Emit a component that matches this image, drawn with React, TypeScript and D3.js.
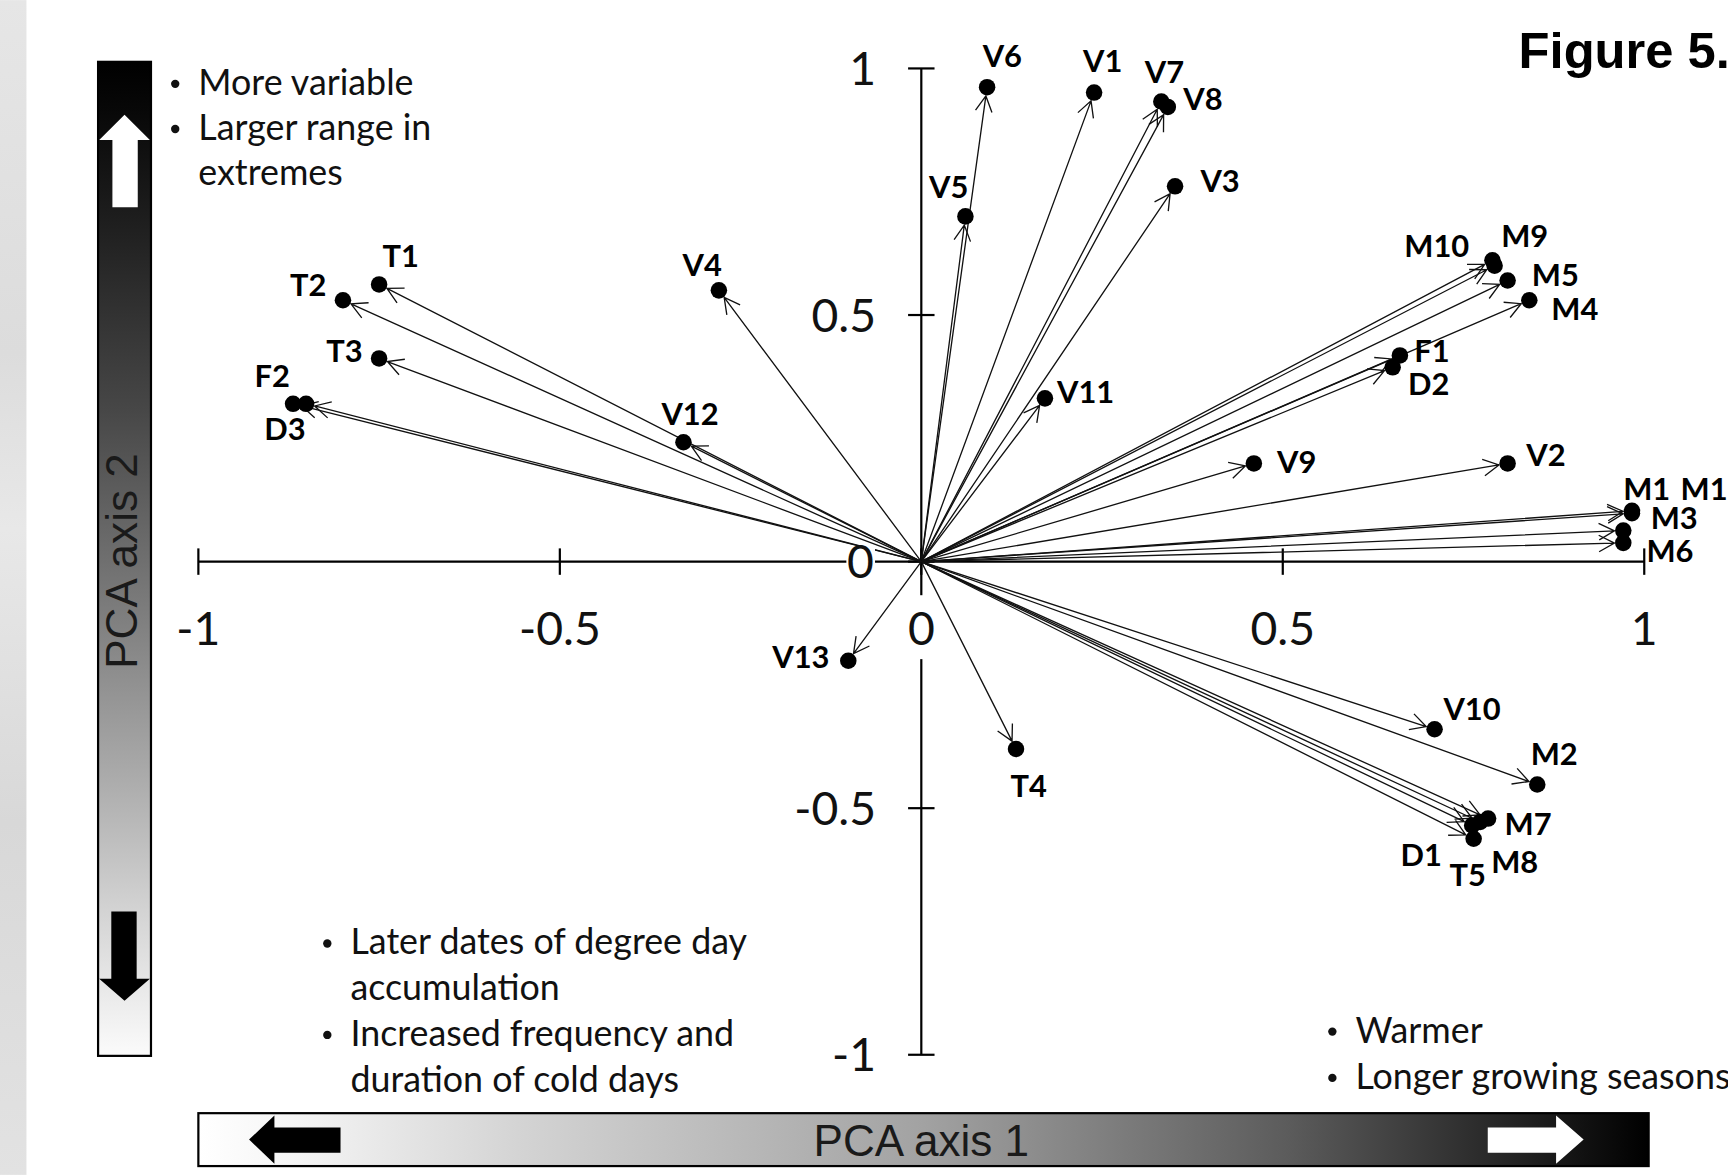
import React from "react";
import * as d3 from "d3";

// loadings
const names = ["V1", "V2", "V3", "V4", "V5", "V6", "V7", "V8", "V9", "V10", "V11", "V12", "V13",
  "T1", "T2", "T3", "T4", "T5",
  "M1", "M2", "M3", "M4", "M5", "M6", "M7", "M8", "M9", "M10", "M11",
  "D1", "D2", "D3", "F1", "F2"];
const pc1 = [0.239, 0.811, 0.351, -0.28, 0.061, 0.091, 0.332, 0.341, 0.46, 0.71, 0.171, -0.329, -0.101,
  -0.75, -0.8, -0.75, 0.131, 0.764,
  0.983, 0.852, 0.983, 0.841, 0.811, 0.971, 0.784, 0.773, 0.793, 0.79, 0.971,
  0.762, 0.652, -0.851, 0.662, -0.869];
const pc2 = [0.951, 0.199, 0.761, 0.55, 0.7, 0.962, 0.933, 0.922, 0.199, -0.34, 0.331, 0.242, -0.201,
  0.562, 0.53, 0.412, -0.38, -0.562,
  0.103, -0.452, 0.098, 0.53, 0.57, 0.038, -0.521, -0.528, 0.6, 0.611, 0.063,
  -0.535, 0.394, 0.32, 0.418, 0.32];

const ticks = [-1, -0.5, 0, 0.5, 1];
const tickText = ["-1", "-0.5", "0", "0.5", "1"];

const topNotes = ["More variable", "Larger range in", "extremes"];
const topBullets = [true, true, false];
const leftNotes = ["Later dates of degree day", "accumulation", "Increased frequency and", "duration of cold days"];
const leftBullets = [true, false, true, false];
const rightNotes = ["Warmer", "Longer growing seasons"];
const rightBullets = [true, true];

// label placement relative to each dot (layout only)
const labelPos: Record<string, [number, number]> = {
  V1: [-10, -19], V2: [17, 2], V3: [23, 5], V4: [-33, -13], V5: [-33, -17], V6: [-4, -18],
  V7: [-15, -17], V8: [14, 3], V9: [21, 9], V10: [8, -8], V11: [11, 4], V12: [-20, -16], V13: [-69, 7],
  T1: [3, -16], T2: [-48, -4], T3: [-48, 3], T4: [-5, 44], T5: [-22, 43],
  M1: [-8, -10], M2: [-6, -18], M3: [17, 14], M4: [20, 18], M5: [22, 5], M6: [21, 17],
  M7: [15, 15], M8: [10, 46], M9: [6, -17], M10: [-80, -3], M11: [52, -28],
  D1: [-65, 37], D2: [14, 25], D3: [-38, 33], F1: [13, 6], F2: [-35, -15],
};

const W = 1568;
const H = 1066;
const sans = "Lato, 'Open Sans', sans-serif";
const arial = "'Liberation Sans', Arial, sans-serif";

export default function App() {
  const x = d3.scaleLinear().domain([-1, 1]).range([180, 1492]);
  const y = d3.scaleLinear().domain([-1, 1]).range([957, 62]);
  const x0 = x(0);
  const y0 = y(0);

  const arrows = names.map((n, i) => {
    const px = x(pc1[i]);
    const py = y(pc2[i]);
    const dx = px - x0;
    const dy = py - y0;
    const len = Math.sqrt(dx * dx + dy * dy);
    const ux = dx / len;
    const uy = dy / len;
    const tx = px - ux * 8;
    const ty = py - uy * 8;
    const ang = Math.atan2(uy, ux);
    const b = 16;
    const a = (28 * Math.PI) / 180;
    const b1 = [tx - b * Math.cos(ang - a), ty - b * Math.sin(ang - a)];
    const b2 = [tx - b * Math.cos(ang + a), ty - b * Math.sin(ang + a)];
    const d = `M${x0},${y0}L${tx},${ty}M${b1[0]},${b1[1]}L${tx},${ty}L${b2[0]},${b2[1]}`;
    return { n, px, py, d };
  });

  const note = (lines: string[], bullets: boolean[], bx: number, by: number, gap: number) =>
    lines.map((t, i) => (
      <g key={t}>
        {bullets[i] && <circle cx={bx + 4} cy={by + i * gap - 10} r={3.8} fill="#111" />}
        <text x={bx + 25} y={by + i * gap} fontFamily={sans} fontSize={32.5} fill="#111">
          {t}
        </text>
      </g>
    ));

  return (
    <svg
      width={1728}
      height={1175}
      viewBox={`0 0 ${W} ${H}`}
      style={{ position: "absolute", left: 0, top: 0, display: "block" }}
    >
      <defs>
        <linearGradient id="vgrad" x1="0" y1="0" x2="0" y2="1">
          <stop offset="0%" stopColor="#000" />
          <stop offset="5%" stopColor="#080808" />
          <stop offset="17%" stopColor="#202020" />
          <stop offset="35%" stopColor="#474747" />
          <stop offset="55%" stopColor="#7c7c7c" />
          <stop offset="72%" stopColor="#ababab" />
          <stop offset="85%" stopColor="#d2d2d2" />
          <stop offset="100%" stopColor="#fbfbfb" />
        </linearGradient>
        <linearGradient id="hgrad" x1="0" y1="0" x2="1" y2="0">
          <stop offset="0%" stopColor="#fff" />
          <stop offset="6%" stopColor="#f6f6f6" />
          <stop offset="22%" stopColor="#d4d4d4" />
          <stop offset="50%" stopColor="#a2a2a2" />
          <stop offset="75%" stopColor="#5c5c5c" />
          <stop offset="90%" stopColor="#262626" />
          <stop offset="100%" stopColor="#000" />
        </linearGradient>
        <linearGradient id="edge" x1="0" y1="0" x2="0" y2="1">
          <stop offset="0%" stopColor="#e6e6e6" />
          <stop offset="30%" stopColor="#dcdcdc" />
          <stop offset="45%" stopColor="#e8e8e8" />
          <stop offset="70%" stopColor="#d8d8d8" />
          <stop offset="100%" stopColor="#e2e2e2" />
        </linearGradient>
      </defs>
      <rect x={0} y={0} width={W} height={H} fill="#fff" />
      <rect x={0} y={0} width={24} height={H} fill="url(#edge)" />

      {/* PCA axis 2 bar */}
      <rect x={89} y={56} width={48} height={902} fill="url(#vgrad)" stroke="#000" strokeWidth={2} />
      <path d="M113,104L136,127L125,127L125,188L102,188L102,127L90,127Z" fill="#fff" />
      <path d="M101,827L124,827L124,888L136,888L113,908L90,888L101,888Z" fill="#000" />
      <text
        transform="translate(124,509) rotate(-90)"
        textAnchor="middle"
        fontFamily={arial}
        fontSize={40}
        fill="#1a1a1a"
      >
        PCA axis 2
      </text>

      {/* PCA axis 1 bar */}
      <rect x={180} y={1010} width={1316} height={48} fill="url(#hgrad)" stroke="#000" strokeWidth={2} />
      <path d="M226,1034L249,1012L249,1023L309,1023L309,1046L249,1046L249,1056Z" fill="#000" />
      <path d="M1437,1034L1412,1012L1412,1023L1350,1023L1350,1046L1412,1046L1412,1056Z" fill="#fff" />
      <text x={836} y={1049} textAnchor="middle" fontFamily={arial} fontSize={40} fill="#1a1a1a">
        PCA axis 1
      </text>

      {/* axes */}
      <g stroke="#000" strokeWidth={2}>
        <line x1={x(-1)} x2={x(1)} y1={y0} y2={y0} />
        <line x1={x0} x2={x0} y1={y(1)} y2={y(-1)} />
        {ticks.map((t) => (
          <line key={"xt" + t} x1={x(t)} x2={x(t)} y1={y0 - 12} y2={y0 + 12} />
        ))}
        {ticks.map((t) => (
          <line key={"yt" + t} x1={x0 - 12} x2={x0 + 12} y1={y(t)} y2={y(t)} />
        ))}
      </g>

      {/* arrows */}
      <g fill="none" stroke="#111" strokeWidth={1.2}>
        {arrows.map((a) => (
          <path key={a.n} d={a.d} />
        ))}
      </g>
      {arrows.map((a) => (
        <circle key={"c" + a.n} cx={a.px} cy={a.py} r={7.5} fill="#000" />
      ))}
      {arrows.map((a) => (
        <text
          key={"l" + a.n}
          x={a.px + labelPos[a.n][0]}
          y={a.py + labelPos[a.n][1]}
          fontFamily={sans}
          fontWeight="bold"
          fontSize={28}
          fill="#000"
        >
          {a.n}
        </text>
      ))}

      {/* tick labels */}
      <rect x={822} y={540} width={28} height={58} fill="#fff" />
      <rect x={768} y={496} width={26} height={27} fill="#fff" />
      {ticks.map((t, i) => (
        <text key={"xl" + t} x={x(t)} y={585} textAnchor="middle" fontFamily={sans} fontSize={42} fill="#111">
          {tickText[i]}
        </text>
      ))}
      {ticks.map((t, i) => (
        <text
          key={"yl" + t}
          x={t === 0 ? 793 : 795}
          y={y(t) + 15}
          textAnchor="end"
          fontFamily={sans}
          fontSize={42}
          fill="#111"
        >
          {tickText[i]}
        </text>
      ))}

      {/* notes */}
      {note(topNotes, topBullets, 155, 86, 41)}
      {note(leftNotes, leftBullets, 293, 866, 41.5)}
      {note(rightNotes, rightBullets, 1205, 946, 42)}

      <text x={1378} y={62} fontFamily={arial} fontWeight="bold" fontSize={46} fill="#000">
        Figure 5.
      </text>
    </svg>
  );
}
